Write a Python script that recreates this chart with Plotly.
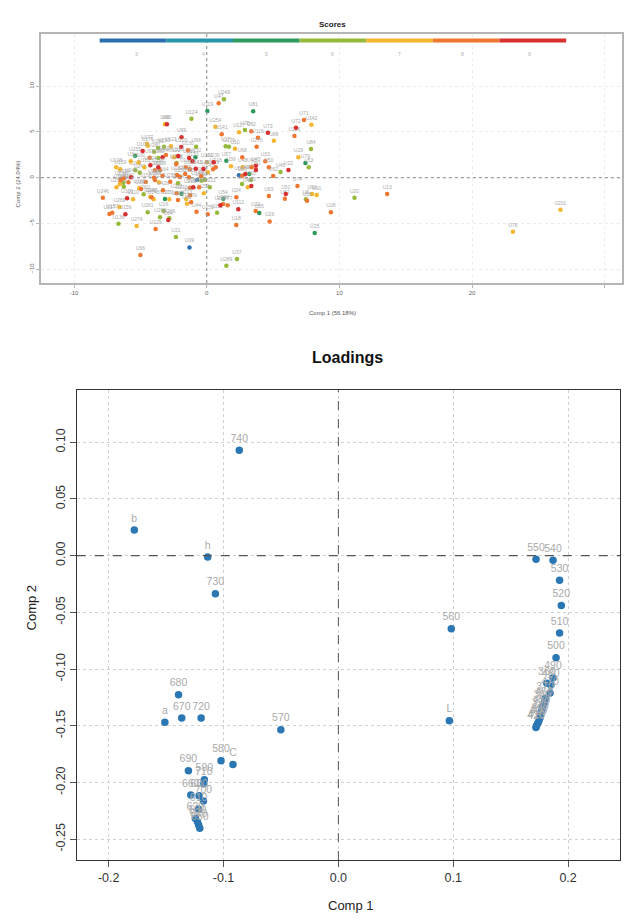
import plotly.graph_objects as go

# ---------------- Scores data (Comp 1, Comp 2, grade, id) ----------------
score_pc1 = [1.3, 0.9, 0.05, 3.5, -1.15, -3.15, -3.0, 7.33, 7.89, 6.73, 6.61, 0.65, 1.13, 2.43, 2.88, 3.36, 4.61, 5.06, 3.86, 3.76,
             1.43, 1.68, 2.13, -1.9, 7.86, 6.91, 7.44, 7.69, 6.16, 5.56, 5.01, 4.68, 4.41, 3.71, 3.71, 3.39, 2.68, 1.48, 1.83, 0.53,
             0.01, 0.68, 0.48, 2.71, 2.43, 2.68, 2.91, 3.21, 3.33, 3.09, 3.36, 2.66, 6.84, 4.68, 5.96, 5.89, 7.48, 7.56, 7.94, 8.29,
             9.36, 8.14, 4.74, 3.96, 3.69, 2.38, 2.23, 1.25, 1.03, 1.23, 1.58, 0.78, 0.08, -0.77, -1.49, -1.17, 2.23, 2.28, 1.48, -1.3,
             -2.32, -2.9, -3.52, -2.82, -3.25, -3.85, -5.28, -4.45, -6.65, -6.13, -7.33, -7.12, -6.58, -7.83, -6.0, -5.55, -5.0, -4.75, -4.25, -4.15,
             -4.0, -3.15, -2.82, -3.3, -2.27, -1.9, -2.17, -1.55, -1.25, -1.27, -1.02, -0.22, -0.57, 0.23, -6.8, -6.28, -6.55, -6.48, -6.25, -5.7,
             -6.82, -6.52, -5.73, -5.4, -5.38, -5.05, -4.83, -5.13, -4.7, -4.5, -4.45, -4.3, -4.25, -3.97, -3.67, -3.65, -3.22, -3.33, -3.9, -3.97,
             -3.9, -3.52, -3.65, -3.07, -2.7, -2.45, -2.15, -2.3, -2.27, -1.92, -1.42, -1.32, -0.8, -0.85, -1.07, -1.57, -1.62, -1.27, -0.82, -0.25,
             0.08, -0.42, -0.72, -0.4, -0.14, -2.24, -2.02, -2.17, -2.75, -3.6, -4.6, -5.08, -4.95, -5.9, -6.25, -3.33, -1.34, 11.14, 13.6, 23.08,
             26.66]
score_pc2 = [8.57, 8.13, 7.29, 7.26, 6.45, 5.84, 5.84, 6.31, 5.79, 5.46, 4.56, 5.57, 4.74, 4.96, 5.21, 5.07, 4.92, 4.04, 4.37, 3.39,
             3.43, 3.39, 3.17, 4.42, 3.14, 2.23, 1.61, 1.14, 0.84, 0.62, 0.19, 1.14, 1.79, 1.31, 0.84, 1.14, 2.23, 1.86, 1.25, 1.68,
             1.68, 1.14, 0.92, 1.14, 0.26, 0.22, 0.4, 0.4, -0.25, -1.05, -0.91, -0.69, -0.91, -2.0, -1.78, -2.3, -2.36, -2.51, -1.78, -1.89,
             -3.78, -6.04, -4.77, -3.86, -3.64, -3.45, -2.14, -2.3, -3.02, -2.87, -3.02, -3.83, -4.0, -3.72, -2.84, -2.69, -5.17, -8.89, -9.62, -7.61,
             -6.48, -4.62, -4.33, -4.44, -3.64, -5.61, -5.28, -3.78, -5.03, -4.0, -3.97, -3.83, -3.2, -2.19, -2.25, -2.36, -8.45, -1.81, -2.11, -2.14,
             -2.36, -2.33, -2.36, -1.38, -1.7, -1.75, -2.44, -2.33, -1.92, -1.09, -1.05, -1.7, -1.05, -1.05, -1.05, -0.55, -0.69, -0.25, -0.07, 0.04,
             1.14, 0.92, 1.79, 2.4, 0.81, 0.55, 2.92, 1.68, 1.14, 3.72, 3.5, 2.19, 1.36, 2.84, 3.25, 2.15, 3.39, 2.23, 0.81, 0.0,
             -0.25, 0.81, 1.14, 2.48, 3.43, 2.23, 2.37, 1.5, 1.6, 3.36, 2.99, 2.15, 3.39, 2.23, 1.79, 1.14, 0.4, 0.92, 0.98, 0.95,
             0.59, 0.15, -0.25, -0.33, -0.25, 0.3, 0.08, -0.61, -0.44, -0.5, -0.47, -1.16, -1.23, -0.5, -0.98, 0.19, 0.04, -2.19, -1.78, -5.9,
             -3.5]
score_grade = [6, 8, 5, 5, 6, 7, 9, 8, 7, 9, 8, 7, 8, 7, 6, 8, 9, 7, 8, 8,
               6, 6, 7, 9, 6, 7, 5, 6, 9, 6, 8, 8, 8, 9, 9, 8, 8, 5, 7, 9,
               7, 8, 8, 7, 3, 8, 9, 5, 6, 7, 9, 6, 8, 8, 9, 8, 6, 8, 7, 7,
               8, 5, 8, 5, 8, 9, 8, 5, 9, 8, 8, 6, 8, 8, 7, 8, 8, 6, 6, 3,
               6, 9, 6, 6, 6, 8, 7, 6, 6, 9, 8, 8, 7, 8, 9, 7, 8, 6, 7, 8,
               7, 5, 7, 8, 8, 5, 8, 7, 8, 8, 9, 7, 8, 6, 7, 6, 7, 8, 8, 9,
               7, 7, 7, 5, 6, 6, 9, 7, 7, 7, 7, 8, 9, 6, 6, 6, 6, 9, 8, 8,
               8, 8, 9, 8, 7, 7, 9, 8, 6, 9, 8, 9, 6, 5, 9, 8, 8, 8, 9, 9,
               7, 8, 3, 6, 6, 8, 8, 6, 8, 7, 8, 7, 8, 8, 6, 8, 8, 6, 8, 7,
               7]
score_ids = ["U249", "U47", "U119", "U81", "U124", "U60", "U80", "U71", "U142", "U72", "U126", "U254", "U141", "U127", "U78", "U82", "U73", "U88", "U116", "U276",
             "U17", "U170", "U10", "U99", "U84", "U29", "U79", "U53", "U22", "U46", "U62", "U50", "U33", "U45", "U41", "U43", "U68", "U57", "U39", "U230",
             "U231", "U218", "U219", "U48", "U58", "U59", "U49", "U61", "U65", "U69", "U70", "U75", "U74", "U63", "U51", "U52", "U5", "U56", "U90", "U91",
             "U28", "U25", "U26", "U55", "U32", "U112", "U24", "U54", "U207", "U208", "U77", "U252", "U253", "U44", "U42", "U47b", "U18", "U37", "U289", "U09",
             "U21", "U64", "U265", "U266", "U16", "U129", "U274", "U261", "U136", "U159", "U137", "U157", "U269", "U246", "U106", "U110", "U66", "U260", "U24b", "U147",
             "U148", "U27", "U30", "U42b", "U210", "U211", "U212", "U213", "U214", "U215", "U216", "U251", "U220", "U221", "U258", "U256", "U257", "U238", "U239", "U240",
             "U138", "U139", "U3", "U255", "U241", "U242", "U102", "U100", "U103", "U177", "U176", "U67", "U104", "U280", "U281", "U282", "U283", "U284", "U285", "U286",
             "U287", "U288", "U290", "U200", "U121", "U122", "U123", "U125", "U128", "U120", "U130", "U131", "U98", "U132", "U133", "U134", "U135", "U140", "U143", "U144",
             "U145", "U146", "U149", "U150", "U151", "U152", "U153", "U154", "U155", "U156", "U158", "U160", "U161", "U162", "U163", "U164", "U165", "U20", "U13", "U76",
             "U201"]

grade_levels = [3, 4, 5, 6, 7, 8, 9]
grade_colors = ["#2a6fb0", "#2796a8", "#2e9a5c", "#95ba3a", "#f4b630", "#ef7631", "#d7302f"]

# ---------------- Loadings data ----------------
load_names = ["740", "b", "h", "730", "680", "670", "720", "a", "570", "580", "C", "690", "590", "710", "660", "600", "700",
              "610", "620", "630", "640", "650", "560", "L", "550", "540", "530", "520", "510", "500", "490", "480", "360",
              "470", "370", "460", "380", "450", "390", "440", "400", "430", "410", "420"]
load_pc1 = [-0.0863, -0.1777, -0.1138, -0.1071, -0.1392, -0.1364, -0.1195, -0.1511, -0.0501, -0.1022, -0.0918, -0.1306, -0.1167,
            -0.1172, -0.1285, -0.1213, -0.1175, -0.1217, -0.1245, -0.1227, -0.1217, -0.1207, 0.0983, 0.0966, 0.1721, 0.1869,
            0.1926, 0.1941, 0.1926, 0.1895, 0.1869, 0.1850, 0.1815, 0.1843, 0.1800, 0.1790, 0.1775, 0.1770, 0.1760, 0.1755,
            0.1745, 0.1735, 0.1725, 0.1720]
load_pc2 = [0.0930, 0.0227, -0.0011, -0.0335, -0.1226, -0.1431, -0.1431, -0.1469, -0.1534, -0.1808, -0.1840, -0.1896, -0.1975,
            -0.2010, -0.2110, -0.2116, -0.2163, -0.2236, -0.2316, -0.2346, -0.2375, -0.2404, -0.0643, -0.1455, -0.0032, -0.0041,
            -0.0217, -0.0438, -0.0682, -0.0899, -0.1076, -0.1140, -0.1125, -0.1211, -0.1260, -0.1300, -0.1330, -0.1370, -0.1400,
            -0.1430, -0.1460, -0.1480, -0.1500, -0.1515]

score_xticks = [-10, 0, 10, 20, 30]
score_yticks = [-10, -5, 0, 5, 10]
load_xticks = [-0.2, -0.1, 0.0, 0.1, 0.2]
load_yticks = [-0.25, -0.20, -0.15, -0.10, -0.05, 0.0, 0.05, 0.10]

W, H = 624, 924
FONT = "Liberation Sans, Arial, sans-serif"

def px_x(p):
    return p / W

def px_y(p):
    return 1 - p / H

fig = go.Figure()

# scores, one trace per grade
for g, col in zip(grade_levels, grade_colors):
    idx = [i for i, v in enumerate(score_grade) if v == g]
    fig.add_trace(go.Scatter(
        x=[score_pc1[i] for i in idx], y=[score_pc2[i] for i in idx],
        text=[score_ids[i] for i in idx], mode="markers+text",
        textposition="top center", textfont=dict(size=5, color="#a8a8a8", family=FONT),
        marker=dict(size=4.5, color=col), xaxis="x", yaxis="y", showlegend=False, cliponaxis=False))

# loadings
fig.add_trace(go.Scatter(
    x=load_pc1, y=load_pc2, text=load_names, mode="markers+text",
    textposition="top center", textfont=dict(size=10.5, color="#aaaaaa", family=FONT),
    marker=dict(size=7.5, color="#2a77b4"), xaxis="x2", yaxis="y2", showlegend=False))

top_x = [px_x(41), px_x(624)]
top_y = [px_y(283), px_y(34)]
bot_x = [px_x(77), px_x(622)]
bot_y = [px_y(860), px_y(390)]

fig.update_layout(
    width=W, height=H, margin=dict(l=0, r=0, t=0, b=0),
    paper_bgcolor="white", plot_bgcolor="white",
    font=dict(family=FONT),
    xaxis=dict(domain=top_x, anchor="y", range=[-12.5, 31.3], tickvals=score_xticks,
               ticktext=["-10", "0", "10", "20", ""], showgrid=True, gridcolor="#ececec", griddash="dot",
               zeroline=False, showline=True, linecolor="#b5b5b5", linewidth=1.5, mirror=True,
               ticks="outside", ticklen=3, tickcolor="#b5b5b5", tickfont=dict(size=6, color="#666")),
    yaxis=dict(domain=top_y, anchor="x", range=[-11.5, 15.7], tickvals=score_yticks,
               showgrid=True, gridcolor="#ececec", griddash="dot", tickangle=-90,
               zeroline=False, showline=True, linecolor="#b5b5b5", linewidth=1.5, mirror=True,
               ticks="outside", ticklen=3, tickcolor="#b5b5b5", tickfont=dict(size=6, color="#666")),
    xaxis2=dict(domain=bot_x, anchor="y2", range=[-0.2278, 0.2452], tickvals=load_xticks,
                ticktext=["-0.2", "-0.1", "0.0", "0.1", "0.2"],
                showgrid=True, gridcolor="#d0d0d0", griddash="dot", zeroline=False,
                showline=True, linecolor="#333", linewidth=1, mirror=True,
                ticks="outside", ticklen=6, tickcolor="#555", tickfont=dict(size=12.5, color="#333")),
    yaxis2=dict(domain=bot_y, anchor="x2", range=[-0.2683, 0.1461], tickvals=load_yticks,
                ticktext=["-0.25", "-0.20", "-0.15", "-0.10", "-0.05", "0.00", "0.05", "0.10"],
                showgrid=True, gridcolor="#d0d0d0", griddash="dot", zeroline=False, tickangle=-90,
                showline=True, linecolor="#333", linewidth=1, mirror=True,
                ticks="outside", ticklen=6, tickcolor="#555", tickfont=dict(size=12.5, color="#333")),
)

shapes = []
# zero lines
shapes.append(dict(type="line", xref="x", yref="y domain", x0=0, x1=0, y0=0, y1=1,
                   line=dict(color="#9a9a9a", width=1.2, dash="dot")))
shapes.append(dict(type="line", xref="x domain", yref="y", x0=0, x1=1, y0=0, y1=0,
                   line=dict(color="#9a9a9a", width=1.2, dash="dot")))
shapes.append(dict(type="line", xref="x2", yref="y2 domain", x0=0, x1=0, y0=0, y1=1,
                   line=dict(color="#555", width=1, dash="dash")))
shapes.append(dict(type="line", xref="x2 domain", yref="y2", x0=0, x1=1, y0=0, y1=0,
                   line=dict(color="#555", width=1.2, dash="dash")))

# colour scale bar for grade
bar_l, bar_r = px_x(100), px_x(568)
seg = (bar_r - bar_l) / len(grade_levels)
annotations = []
for i, (g, col) in enumerate(zip(grade_levels, grade_colors)):
    shapes.append(dict(type="line", xref="paper", yref="paper", x0=bar_l + i * seg, x1=bar_l + (i + 1) * seg,
                       y0=px_y(40.5), y1=px_y(40.5), line=dict(color=col, width=4)))
    annotations.append(dict(x=bar_l + (i + 0.5) * seg, y=px_y(49), xref="paper", yref="paper", text=str(g),
                            showarrow=False, font=dict(size=5, color="#b0b0b0", family=FONT)))

annotations += [
    dict(x=px_x(334), y=px_y(18), xref="paper", yref="paper", text="<b>Scores</b>", showarrow=False,
         font=dict(size=8, color="#222", family=FONT)),
    dict(x=px_x(334), y=px_y(313), xref="paper", yref="paper", text="Comp 1 (56.18%)", showarrow=False,
         font=dict(size=6, color="#555", family=FONT)),
    dict(x=px_x(13), y=px_y(158), xref="paper", yref="paper", text="Comp 2 (24.04%)", showarrow=False,
         textangle=-90, font=dict(size=6, color="#555", family=FONT)),
    dict(x=px_x(349), y=px_y(357), xref="paper", yref="paper", text="<b>Loadings</b>", showarrow=False,
         font=dict(size=16, color="#111", family=FONT)),
    dict(x=px_x(352), y=px_y(915), xref="paper", yref="paper", text="Comp 1", showarrow=False,
         font=dict(size=13, color="#222", family=FONT)),
    dict(x=px_x(22), y=px_y(632), xref="paper", yref="paper", text="Comp 2", showarrow=False,
         textangle=-90, font=dict(size=13, color="#222", family=FONT)),
]

fig.update_layout(shapes=shapes, annotations=annotations)
fig.write_html("out.html", config={"displayModeBar": False},
               post_script="document.body.style.margin='0';document.body.style.overflow='hidden';")
